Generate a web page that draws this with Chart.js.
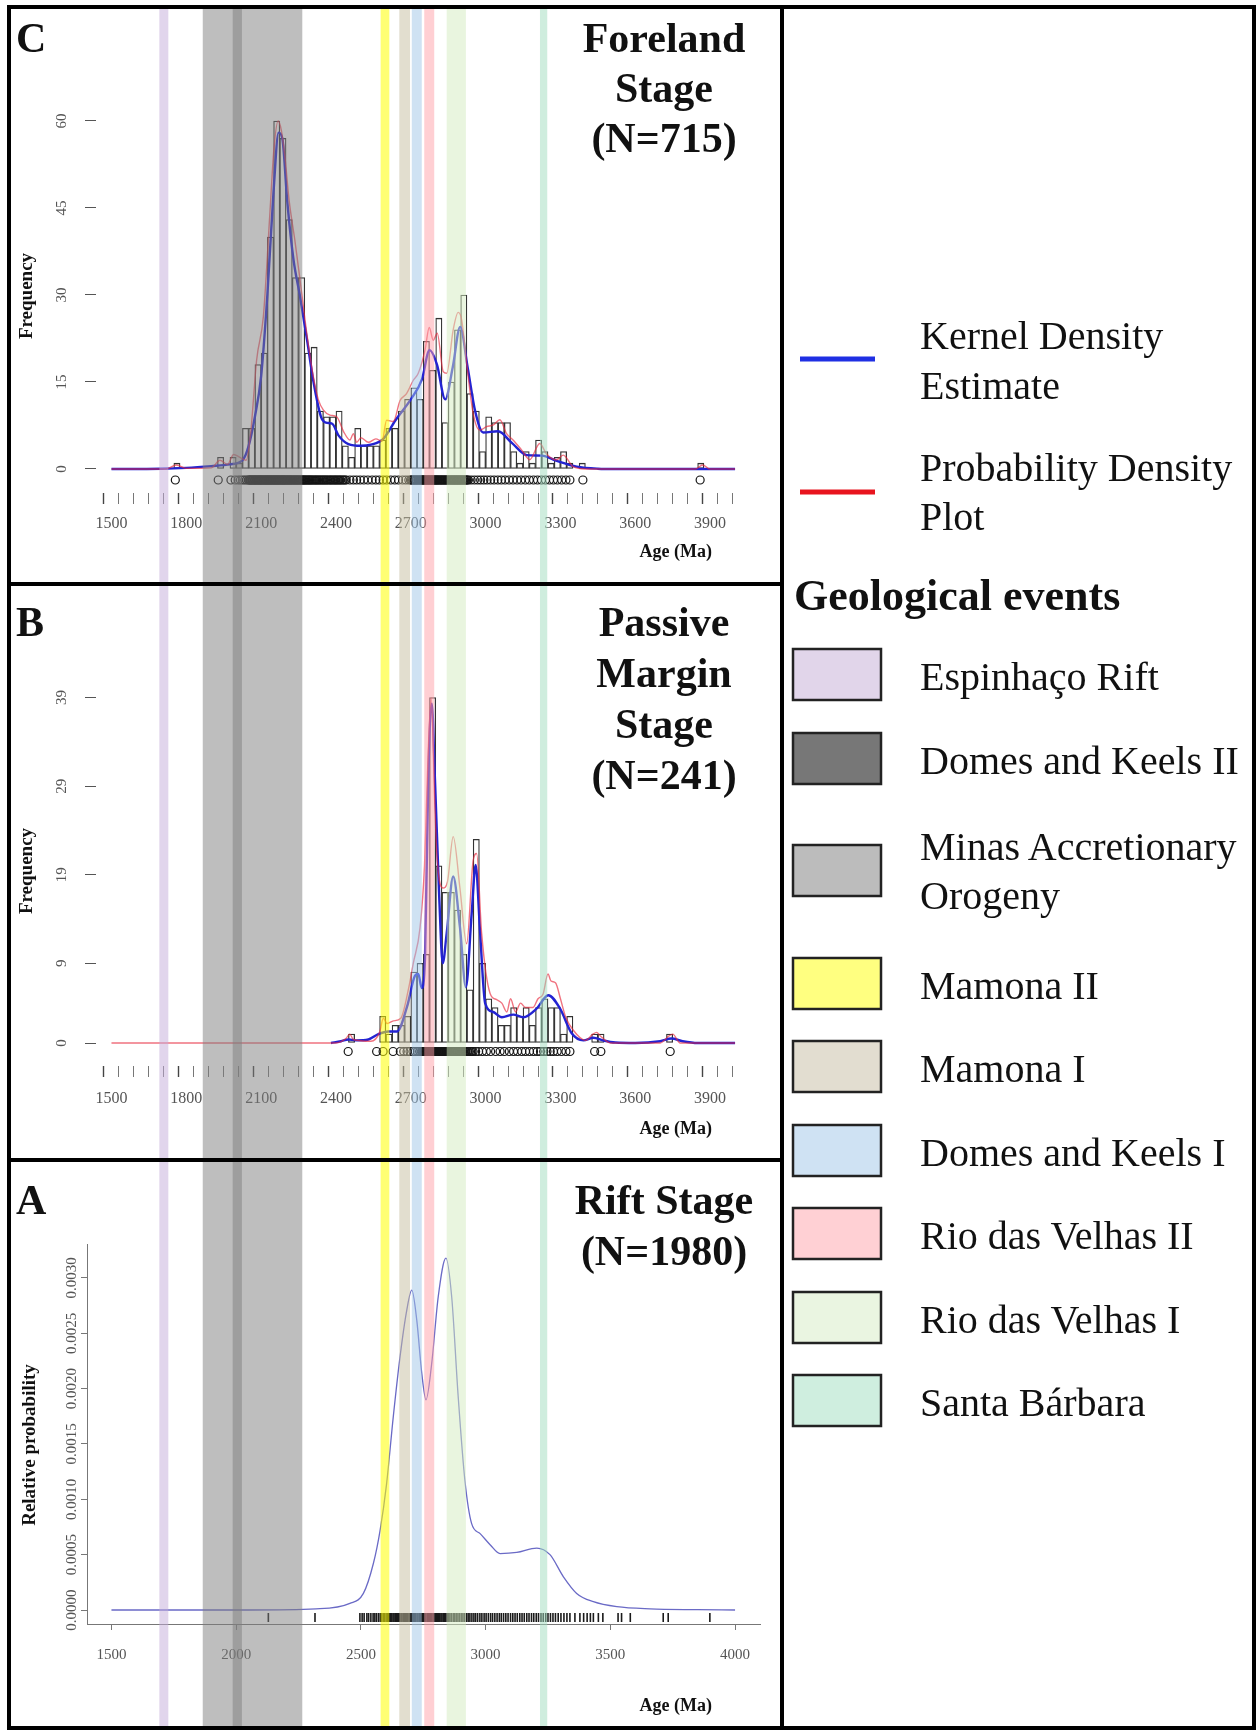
<!DOCTYPE html>
<html>
<head>
<meta charset="utf-8">
<script src="https://cdn.jsdelivr.net/npm/chart.js@4.4.1/dist/chart.umd.min.js"></script>
<style>
  body { margin: 0; background: #fff; }
  #page { position: relative; width: 1257px; height: 1731px; overflow: hidden; background: #fff; }
  canvas { position: absolute; left: 0; z-index: 1; }
  #overlay { position: absolute; left: 0; top: 0; z-index: 5; }
</style>
</head>
<body>
<div id="page">
  <canvas id="foreland" width="784" height="584" style="top:0px;width:784px;height:584px"></canvas>
  <canvas id="passive" width="784" height="576" style="top:584px;width:784px;height:576px"></canvas>
  <canvas id="rift" width="784" height="571" style="top:1160px;width:784px;height:571px"></canvas>
  <svg id="overlay" width="1257" height="1731" xmlns="http://www.w3.org/2000/svg"></svg>
</div>
<script>
const serif = "'Liberation Serif', 'Times New Roman', serif";
Chart.defaults.font.family = serif;
Chart.defaults.color = '#555';

// ---------------- data ----------------
// geological events (Ma), drawn as vertical bands over all panels
const eventNames = ['Espinhaço Rift', 'Minas Accretionary Orogeny', 'Domes and Keels II', 'Mamona II', 'Mamona I',
  'Domes and Keels I', 'Rio das Velhas II', 'Rio das Velhas I', 'Santa Bárbara'];
const eventStart = [1692, 1866, 1986, 2579, 2654, 2704, 2754, 2844, 3218];
const eventEnd = [1728, 2265, 2023, 2614, 2697, 2744, 2794, 2921, 3247];
const eventBandColors = ['rgba(196,172,218,0.5)', 'rgba(125,125,125,0.5)', 'rgba(128,128,128,0.5)', 'rgba(255,255,0,0.55)',
  'rgba(198,190,160,0.5)', 'rgba(160,198,232,0.5)', 'rgba(255,160,168,0.5)', 'rgba(212,236,192,0.5)', 'rgba(160,220,190,0.5)'];

// legend order
const legendEvents = ['Espinhaço Rift', 'Domes and Keels II', 'Minas Accretionary Orogeny', 'Mamona II', 'Mamona I',
  'Domes and Keels I', 'Rio das Velhas II', 'Rio das Velhas I', 'Santa Bárbara'];
const legendSwatches = ['#e1d5ea', '#777777', '#bcbcbc', '#ffff80', '#e2ddd0', '#cfe2f3', '#ffd0d4', '#eaf5e1', '#cfeedf'];

const ageTickLabels = [1500, 1800, 2100, 2400, 2700, 3000, 3300, 3600, 3900];
const riftAgeTicks = [1500, 2000, 2500, 3000, 3500, 4000];
const forelandFreqTicks = [0, 15, 30, 45, 60];
const passiveFreqTicks = [0, 9, 19, 29, 39];
const riftProbTicks = [0, 0.0005, 0.001, 0.0015, 0.002, 0.0025, 0.003];

// C - Foreland stage, 25 Ma bins (bin start, count)
const forelandBinStart = [1750, 1925, 1975, 2000, 2025, 2050, 2075, 2100, 2125, 2150, 2175, 2200, 2225, 2250, 2275, 2300,
  2325, 2350, 2375, 2400, 2425, 2450, 2475, 2500, 2525, 2550, 2575, 2600, 2625, 2650, 2675, 2700, 2725, 2750, 2775, 2800,
  2825, 2850, 2875, 2900, 2925, 2950, 2975, 3000, 3025, 3050, 3075, 3100, 3125, 3150, 3175, 3200, 3225, 3250, 3275, 3300,
  3325, 3375, 3850];
const forelandCount = [1, 2, 2, 1, 7, 7, 18, 20, 40, 60, 57, 43, 33, 33, 20, 21,
  10, 9, 9, 10, 4, 2, 7, 4, 4, 4, 5, 7, 7, 10, 12, 14, 12, 22, 17, 26,
  8, 15, 24, 30, 13, 10, 3, 9, 8, 8, 8, 3, 1, 3, 1, 5, 3, 1, 2, 3,
  1, 1, 1];
const forelandKdeAge = [1500, 1700, 1800, 1900, 1975, 2025, 2050, 2075, 2100, 2125, 2150, 2170, 2185, 2205, 2230, 2255,
  2285, 2310, 2340, 2360, 2385, 2410, 2450, 2500, 2540, 2590, 2640, 2700, 2745, 2775, 2805, 2838, 2868, 2898, 2928, 2958,
  2990, 3050, 3105, 3165, 3225, 3285, 3365, 3450, 3520, 4000];
const forelandKde = [0, 0.05, 0.2, 0.5, 0.8, 1.5, 4, 9, 16, 30, 48, 58, 57, 46, 36, 30,
  22, 15, 9, 8, 7.8, 5.8, 4.3, 4, 4.2, 5.2, 8.5, 12, 15.5, 20.5, 18, 12, 17.5, 24.5, 17.5, 10,
  6.3, 6.5, 4.5, 2.4, 2.3, 1.4, 0.4, 0.05, 0, 0];
const forelandPdpAge = [1500, 1720, 1760, 1800, 1900, 1935, 1965, 1990, 2015, 2040, 2058, 2082, 2109, 2135, 2151, 2168,
  2181, 2195, 2212, 2235, 2256, 2283, 2309, 2329, 2349, 2376, 2403, 2430, 2456, 2470, 2483, 2500, 2530, 2560, 2585, 2603,
  2630, 2657, 2683, 2710, 2730, 2757, 2774, 2790, 2806, 2830, 2844, 2870, 2890, 2904, 2924, 2950, 2977, 3004, 3031, 3057,
  3084, 3110, 3144, 3177, 3217, 3244, 3284, 3311, 3351, 3400, 3840, 3870, 3900, 4000];
const forelandPdp = [0, 0, 0.7, 0.1, 0.2, 1.5, 0.8, 2.5, 2.0, 1.5, 6.2, 18.8, 26.3, 44, 55, 60,
  58.4, 54, 46.4, 39.5, 32.6, 23.4, 16, 12, 10.2, 9.3, 9, 6.5, 5.0, 6.1, 4.6, 5.4, 4.6, 5.2, 4.8, 8.4,
  8.2, 11.8, 13, 15.3, 16.5, 20.5, 24.4, 22.2, 23.4, 16.8, 16.5, 24, 27, 25.7, 18.2, 9.6, 6.7, 7.3, 7.6, 8.5,
  6.1, 5, 3.3, 1.6, 4.4, 2.6, 1.6, 2.4, 0.4, 0, 0, 0.7, 0, 0];
const forelandRugAges = [1756, 1928, 1979, 1996, 2008, 2017, 2026, 2034, 2041,
  2048, 2051, 2054, 2057, 2059, 2062, 2065, 2068, 2071, 2074, 2076, 2079, 2082, 2085, 2088, 2091, 2093, 2096, 2099, 2102,
  2104, 2107, 2110, 2113, 2116, 2119, 2121, 2124, 2127, 2130, 2132, 2135, 2138, 2141, 2143, 2146, 2149, 2152, 2155, 2158,
  2160, 2163, 2166, 2169, 2171, 2174, 2177, 2180, 2183, 2186, 2188, 2191, 2194, 2197, 2200, 2203, 2206, 2209, 2212, 2215,
  2218, 2221, 2224, 2228, 2231, 2234, 2237, 2241, 2244, 2247, 2250, 2254, 2257, 2261, 2264, 2268, 2271, 2275, 2278, 2282,
  2286, 2290, 2293, 2297, 2301, 2305, 2309, 2314, 2318, 2322, 2326, 2331, 2335, 2340, 2344, 2349, 2353, 2358, 2362, 2367,
  2372, 2377, 2381, 2386, 2391, 2396, 2400, 2405, 2410, 2415, 2419, 2425, 2430, 2436, 2441,
  2456, 2470, 2483, 2497, 2512, 2528, 2545, 2560, 2574, 2589, 2603, 2620, 2636, 2651, 2667, 2680, 2692,
  2700, 2703, 2707, 2710, 2714, 2717, 2721, 2724, 2728, 2731, 2735, 2738, 2742, 2745, 2748, 2751, 2754, 2757, 2760, 2763,
  2766, 2769, 2772, 2775, 2778, 2781, 2784, 2787, 2790, 2793, 2796, 2799, 2802, 2805, 2808, 2811, 2815, 2818, 2822, 2825,
  2829, 2832, 2836, 2839, 2843, 2846, 2850, 2853, 2857, 2860, 2863, 2866, 2869, 2872, 2875, 2878, 2881, 2884, 2887, 2890,
  2893, 2896, 2899, 2902, 2906, 2909, 2913, 2916, 2920, 2923, 2927, 2931,
  2942, 2955, 2968, 2980, 2993, 3006, 3020, 3034, 3049, 3063, 3078, 3094, 3110, 3126, 3142, 3159, 3175, 3192, 3208, 3224,
  3240, 3256, 3272, 3288, 3305, 3322, 3338, 3390, 3860];

// B - Passive margin stage
const passiveBinStart = [2450, 2575, 2600, 2625, 2650, 2675, 2700, 2725, 2750, 2775, 2800, 2825, 2850, 2875, 2900, 2925,
  2950, 2975, 3000, 3025, 3050, 3075, 3100, 3125, 3150, 3175, 3200, 3225, 3250, 3275, 3300, 3325, 3425, 3450, 3725];
const passiveCount = [1, 3, 1, 2, 2, 3, 8, 9, 10, 39, 20, 17, 17, 15, 10, 6,
  23, 9, 5, 4, 2, 2, 4, 3, 4, 2, 4, 5, 4, 4, 1, 3, 1, 1, 1];
const passiveKdeAge = [2380, 2420, 2450, 2480, 2530, 2570, 2610, 2645, 2685, 2717, 2730, 2744, 2757, 2770, 2784, 2797,
  2814, 2828, 2844, 2870, 2897, 2921, 2944, 2960, 2978, 2998, 3031, 3065, 3111, 3151, 3205, 3251, 3298, 3345, 3392, 3432,
  3470, 3520, 3600, 3700, 3745, 3790, 3850, 4000];
const passiveKde = [0, 0.2, 0.4, 0.3, 0.4, 1.0, 1.3, 1.3, 4.1, 7.6, 7.8, 6.2, 9.6, 29.7, 38.3, 29.7,
  16.5, 9, 12.4, 18.8, 13.1, 6.3, 14.6, 20.1, 12.4, 4.5, 3.5, 2.9, 3.2, 2.9, 3.9, 5.4, 3.9, 1.1, 0.3, 0.6,
  0.3, 0.05, 0, 0.2, 0.5, 0.2, 0, 0];
const passivePdpAge = [1500, 2400, 2440, 2455, 2470, 2540, 2575, 2590, 2605, 2630, 2660, 2690, 2710, 2737, 2755, 2770,
  2782, 2795, 2805, 2829, 2847, 2870, 2897, 2924, 2950, 2964, 2984, 3018, 3044, 3065, 3085, 3100, 3120, 3140, 3160, 3190,
  3210, 3230, 3250, 3262, 3280, 3300, 3320, 3350, 3400, 3430, 3445, 3460, 3500, 3700, 3735, 3750, 3780, 4000];
const passivePdp = [0, 0, 0.5, 1.0, 0.4, 0.2, 1.2, 2.8, 2.2, 2.5, 2.8, 6, 9, 13, 20, 33,
  39, 28, 21, 17.5, 18.2, 23.3, 17.5, 11.2, 20.6, 21.4, 12.4, 5.6, 4.9, 4.5, 3.5, 5, 3.5, 4.5, 4, 4,
  5, 5.5, 7.8, 7, 6.8, 5, 3, 1.5, 0.3, 1.0, 1.2, 0.8, 0, 0, 0.8, 1.0, 0, 0];
const passiveRugAges = [2449, 2563, 2589, 2629, 2658, 2672, 2685, 2697, 2709, 2718, 2727, 2735, 2742, 2746, 2749, 2752,
  2755, 2758, 2760, 2763, 2765, 2768, 2770, 2773, 2775, 2778, 2780, 2783, 2785, 2788, 2790, 2793, 2795, 2798, 2800, 2803,
  2806, 2809, 2812, 2815, 2818, 2821, 2824, 2827, 2830, 2834, 2837, 2841, 2844, 2848, 2851, 2855, 2858, 2862, 2865, 2869,
  2872, 2876, 2880, 2884, 2888, 2892, 2896, 2900, 2904, 2908, 2912, 2917, 2921, 2926, 2930, 2935, 2940, 2945, 2950, 2960,
  2972, 2987, 3003, 3020, 3040, 3058, 3075, 3095, 3112, 3128, 3145, 3160, 3176, 3192, 3207, 3220, 3233, 3246, 3259, 3272,
  3287, 3304, 3322, 3338, 3437, 3462, 3740];

// A - Rift stage, relative probability
const riftAge = [1500, 2050, 2320, 2456, 2510, 2550, 2577, 2603, 2630, 2657, 2684, 2704, 2724, 2744, 2761, 2784, 2810,
  2841, 2864, 2890, 2917, 2944, 2978, 3018, 3058, 3125, 3205, 3258, 3312, 3365, 3432, 3526, 3659, 3850, 4000];
const riftProb = [0, 0, 0.00001, 0.00006, 0.00015, 0.00042, 0.00072, 0.00114, 0.00175, 0.00229, 0.00271, 0.00289, 0.00262,
  0.00214, 0.0019, 0.00223, 0.00283, 0.00318, 0.00283, 0.00193, 0.00117, 0.00078, 0.00069, 0.00059, 0.00051, 0.00052,
  0.00056, 0.0005, 0.0003, 0.00015, 0.000075, 0.00003, 0.00001, 0.000003, 0];
const riftRugAges = [2129, 2316,
  2496, 2505, 2513, 2524, 2531, 2540, 2549, 2556, 2563, 2571, 2578, 2584, 2590, 2595, 2601, 2606, 2610, 2615, 2619, 2624,
  2629, 2633, 2638, 2642, 2647, 2651, 2656, 2661, 2665, 2670, 2674, 2679, 2683, 2688, 2693, 2697, 2702, 2706, 2711, 2715,
  2720, 2725, 2729, 2734, 2738, 2743, 2747, 2752, 2757, 2761, 2766, 2770, 2775, 2779, 2784, 2789, 2793, 2798, 2802, 2807,
  2811, 2816, 2821, 2825, 2830, 2835, 2840, 2846, 2852, 2857, 2863, 2870, 2876, 2882, 2889, 2895, 2902, 2909, 2915, 2923,
  2930, 2937, 2945, 2953, 2960, 2968, 2977, 2985, 2994, 3002, 3011, 3020, 3028, 3037, 3046, 3055, 3063, 3072, 3081, 3090,
  3100, 3109, 3118, 3127, 3137, 3146, 3155, 3165, 3174, 3184, 3193, 3203, 3212, 3222, 3231, 3241, 3250, 3260, 3270, 3280,
  3291, 3302, 3314, 3326, 3338, 3358, 3378, 3393, 3407, 3420, 3432, 3452, 3470, 3531, 3545, 3580, 3712, 3732, 3899];

// ---------------- helpers ----------------
const BIN = 25;
const pairs = (xs, ys) => xs.map((x, i) => ({ x: x, y: ys[i] }));
const bins = (starts, counts) => starts.map((s, i) => ({ x: s + BIN / 2, y: counts[i] }));
const rug = (ages, level) => ages.map(a => ({ x: a, y: level }));

const minorAgeTicks = [];
for (let a = 1500; a <= 3960; a += 60) minorAgeTicks.push(a);

const decor = {
  id: 'decor',
  afterDraw(chart, args, o) {
    const ctx = chart.ctx;
    const xs = chart.scales.x;
    ctx.save();
    eventStart.forEach((s, i) => {
      const x1 = xs.getPixelForValue(s);
      const x2 = xs.getPixelForValue(eventEnd[i]);
      ctx.fillStyle = eventBandColors[i];
      ctx.fillRect(x1, o.bandTop, x2 - x1, o.bandBottom - o.bandTop);
    });
    ctx.fillStyle = '#111';
    ctx.font = 'bold 42px ' + serif;
    ctx.textBaseline = 'alphabetic';
    ctx.textAlign = 'left';
    ctx.fillText(o.letter, 16, o.titleBase[0]);
    ctx.textAlign = 'center';
    o.title.forEach((t, i) => ctx.fillText(t, 664, o.titleBase[i]));
    ctx.save();
    ctx.translate(o.yTitleX, o.yTitleY);
    ctx.rotate(-Math.PI / 2);
    ctx.font = 'bold 19px ' + serif;
    ctx.textBaseline = 'middle';
    ctx.fillText(o.yTitle, 0, 0);
    ctx.restore();
    ctx.font = 'bold 18px ' + serif;
    ctx.textAlign = 'right';
    ctx.textBaseline = 'middle';
    ctx.fillText('Age (Ma)', 712, o.xTitleY);
    ctx.restore();
  }
};

function histPanel(id, p) {
  return new Chart(document.getElementById(id), {
    type: 'scatter',
    data: {
      datasets: [
        { type: 'bar', data: bins(p.binStart, p.counts), backgroundColor: 'rgba(0,0,0,0)', borderColor: '#333',
          borderWidth: 0.6, borderSkipped: false, barPercentage: 1, categoryPercentage: 1, order: 4 },
        { type: 'line', data: pairs(p.kdeAge, p.kde), borderColor: '#2323d2', borderWidth: 2.4, pointRadius: 0,
          cubicInterpolationMode: 'monotone', order: 3 },
        { type: 'line', data: pairs(p.pdpAge, p.pdp), borderColor: 'rgba(232,40,60,0.65)', borderWidth: 1.4,
          pointRadius: 0, cubicInterpolationMode: 'monotone', order: 2 },
        { type: 'scatter', data: rug(p.rugAges, p.rugLevel), pointStyle: 'circle', pointRadius: 4,
          pointBorderWidth: 1.2, pointBorderColor: '#151515', pointBackgroundColor: 'rgba(0,0,0,0)', order: 1 }
      ]
    },
    plugins: [decor],
    options: {
      responsive: false, animation: false, devicePixelRatio: 1, events: [],
      layout: { padding: { left: 0, right: 24, top: p.top, bottom: 0 } },
      plugins: { legend: { display: false }, tooltip: { enabled: false }, decor: p.decor },
      scales: {
        x: {
          type: 'linear', min: 1438, max: 4100, offset: false,
          afterBuildTicks: s => { s.ticks = minorAgeTicks.map(v => ({ value: v })); },
          afterFit: s => { s.height = p.xAxisHeight; s.paddingLeft = 0; s.paddingRight = 0; },
          border: { display: false },
          grid: { drawOnChartArea: false, drawTicks: true, tickLength: 11,
            tickColor: c => ageTickLabels.includes(c.tick && c.tick.value) ? '#444' : '#777',
            tickWidth: c => ageTickLabels.includes(c.tick && c.tick.value) ? 1.4 : 1 },
          ticks: { autoSkip: false, minRotation: 0, maxRotation: 0, padding: p.xPad, color: '#555', font: { size: 16 },
            callback: v => ageTickLabels.includes(v) ? String(v) : '' }
        },
        y: {
          type: 'linear', min: p.yMin, max: p.yMax,
          afterBuildTicks: s => { s.ticks = p.yTicks.map(v => ({ value: v })); },
          afterFit: s => { s.width = 96; s.paddingTop = 0; s.paddingBottom = 0; },
          border: { display: false },
          grid: { drawOnChartArea: false, drawTicks: true, tickLength: 11, tickColor: '#555', tickWidth: 1 },
          ticks: { minRotation: 90, maxRotation: 90, crossAlign: 'center', padding: 15.5, color: '#555',
            font: { size: 15 }, callback: v => String(v) }
        }
      }
    }
  });
}

// C: zero at y=469, 5.8 px per count; chart area 100..493
histPanel('foreland', {
  binStart: forelandBinStart, counts: forelandCount, kdeAge: forelandKdeAge, kde: forelandKde,
  pdpAge: forelandPdpAge, pdp: forelandPdp, rugAges: forelandRugAges, rugLevel: -1.9,
  top: 100, xAxisHeight: 91, yMin: -4.138, yMax: 63.62, yTicks: forelandFreqTicks, xPad: 10.5,
  decor: { bandTop: 9, bandBottom: 584, letter: 'C', title: ['Foreland', 'Stage', '(N=715)'], titleBase: [52, 102, 152],
    yTitle: 'Frequency', yTitleX: 27, yTitleY: 296, xTitleY: 552 }
});

// B: zero at y=459, 8.856 px per count; chart area 90..482
histPanel('passive', {
  binStart: passiveBinStart, counts: passiveCount, kdeAge: passiveKdeAge, kde: passiveKde,
  pdpAge: passivePdpAge, pdp: passivePdp, rugAges: passiveRugAges, rugLevel: -0.96,
  top: 90, xAxisHeight: 94, yMin: -2.597, yMax: 41.665, yTicks: passiveFreqTicks, xPad: 12,
  decor: { bandTop: 0, bandBottom: 576, letter: 'B', title: ['Passive', 'Margin', 'Stage', '(N=241)'],
    titleBase: [52, 103, 154, 205], yTitle: 'Frequency', yTitleX: 27, yTitleY: 287, xTitleY: 545 }
});

// A: relative probability
new Chart(document.getElementById('rift'), {
  type: 'scatter',
  data: {
    datasets: [
      { type: 'line', data: pairs(riftAge, riftProb), borderColor: '#6a6ac6', borderWidth: 1.3, pointRadius: 0,
        cubicInterpolationMode: 'monotone', order: 2 },
      { type: 'scatter', data: rug(riftRugAges, -0.0000677), pointStyle: 'line', pointRotation: 90, pointRadius: 4.5,
        pointBorderWidth: 1.6, pointBorderColor: '#1a1a1a', order: 1 }
    ]
  },
  plugins: [decor],
  options: {
    responsive: false, animation: false, devicePixelRatio: 1, events: [],
    layout: { padding: { left: 0, right: 24, top: 84, bottom: 0 } },
    plugins: { legend: { display: false }, tooltip: { enabled: false },
      decor: { bandTop: 0, bandBottom: 566, letter: 'A', title: ['Rift Stage', '(N=1980)'], titleBase: [54, 105],
        yTitle: 'Relative probability', yTitleX: 30, yTitleY: 285, xTitleY: 546 } },
    scales: {
      x: {
        type: 'linear', min: 1402, max: 4100, offset: false,
        afterBuildTicks: s => { s.ticks = riftAgeTicks.map(v => ({ value: v })); },
        afterFit: s => { s.height = 107; s.paddingLeft = 0; s.paddingRight = 0; },
        border: { display: true, color: '#777', width: 1 },
        grid: { drawOnChartArea: false, drawTicks: true, tickLength: 6, tickColor: '#777' },
        ticks: { autoSkip: false, minRotation: 0, maxRotation: 0, padding: 16, color: '#555', font: { size: 15 },
          callback: v => String(v) }
      },
      y: {
        type: 'linear', min: -0.0001265, max: 0.0033072,
        afterBuildTicks: s => { s.ticks = riftProbTicks.map(v => ({ value: v })); },
        afterFit: s => { s.width = 87; s.paddingTop = 0; s.paddingBottom = 0; },
        border: { display: true, color: '#777', width: 1 },
        grid: { drawOnChartArea: false, drawTicks: true, tickLength: 6, tickColor: '#777' },
        ticks: { minRotation: 90, maxRotation: 90, crossAlign: 'center', padding: -11.6, color: '#555',
          font: { size: 15 }, callback: v => v.toFixed(4) }
      }
    }
  }
});

// ---------------- frame and legend ----------------
const svg = document.getElementById('overlay');
const NS = 'http://www.w3.org/2000/svg';
function el(tag, attrs, text) {
  const e = document.createElementNS(NS, tag);
  Object.keys(attrs).forEach(k => e.setAttribute(k, attrs[k]));
  if (text) e.textContent = text;
  svg.appendChild(e);
  return e;
}
[[7, 5, 1249, 4], [7, 1726, 1249, 4], [7, 5, 4, 1725], [1252, 5, 4, 1725], [780, 5, 4, 1725],
 [7, 582, 777, 4], [7, 1158, 777, 4]].forEach(r => el('rect', { x: r[0], y: r[1], width: r[2], height: r[3], fill: '#000' }));

const textStyle = { 'font-family': serif, 'font-size': 40, fill: '#111' };
el('line', { x1: 800, x2: 875, y1: 359, y2: 359, stroke: '#1f2fe3', 'stroke-width': 5 });
el('text', Object.assign({ x: 920, y: 349 }, textStyle), 'Kernel Density');
el('text', Object.assign({ x: 920, y: 399 }, textStyle), 'Estimate');
el('line', { x1: 800, x2: 875, y1: 492, y2: 492, stroke: '#e8141e', 'stroke-width': 5 });
el('text', Object.assign({ x: 920, y: 481 }, textStyle), 'Probability Density');
el('text', Object.assign({ x: 920, y: 530 }, textStyle), 'Plot');
el('text', { x: 794, y: 610, 'font-family': serif, 'font-size': 44, 'font-weight': 'bold', fill: '#111' }, 'Geological events');

const boxTops = [649, 733, 845, 958, 1041, 1125, 1208, 1292, 1375];
legendEvents.forEach((name, i) => {
  const top = boxTops[i];
  el('rect', { x: 793, y: top, width: 88, height: 51, fill: legendSwatches[i], stroke: '#222', 'stroke-width': 2.5 });
  if (name === 'Minas Accretionary Orogeny') {
    el('text', Object.assign({ x: 920, y: top + 15 }, textStyle), 'Minas Accretionary');
    el('text', Object.assign({ x: 920, y: top + 64 }, textStyle), 'Orogeny');
  } else {
    el('text', Object.assign({ x: 920, y: top + 41 }, textStyle), name);
  }
});
</script>
</body>
</html>
